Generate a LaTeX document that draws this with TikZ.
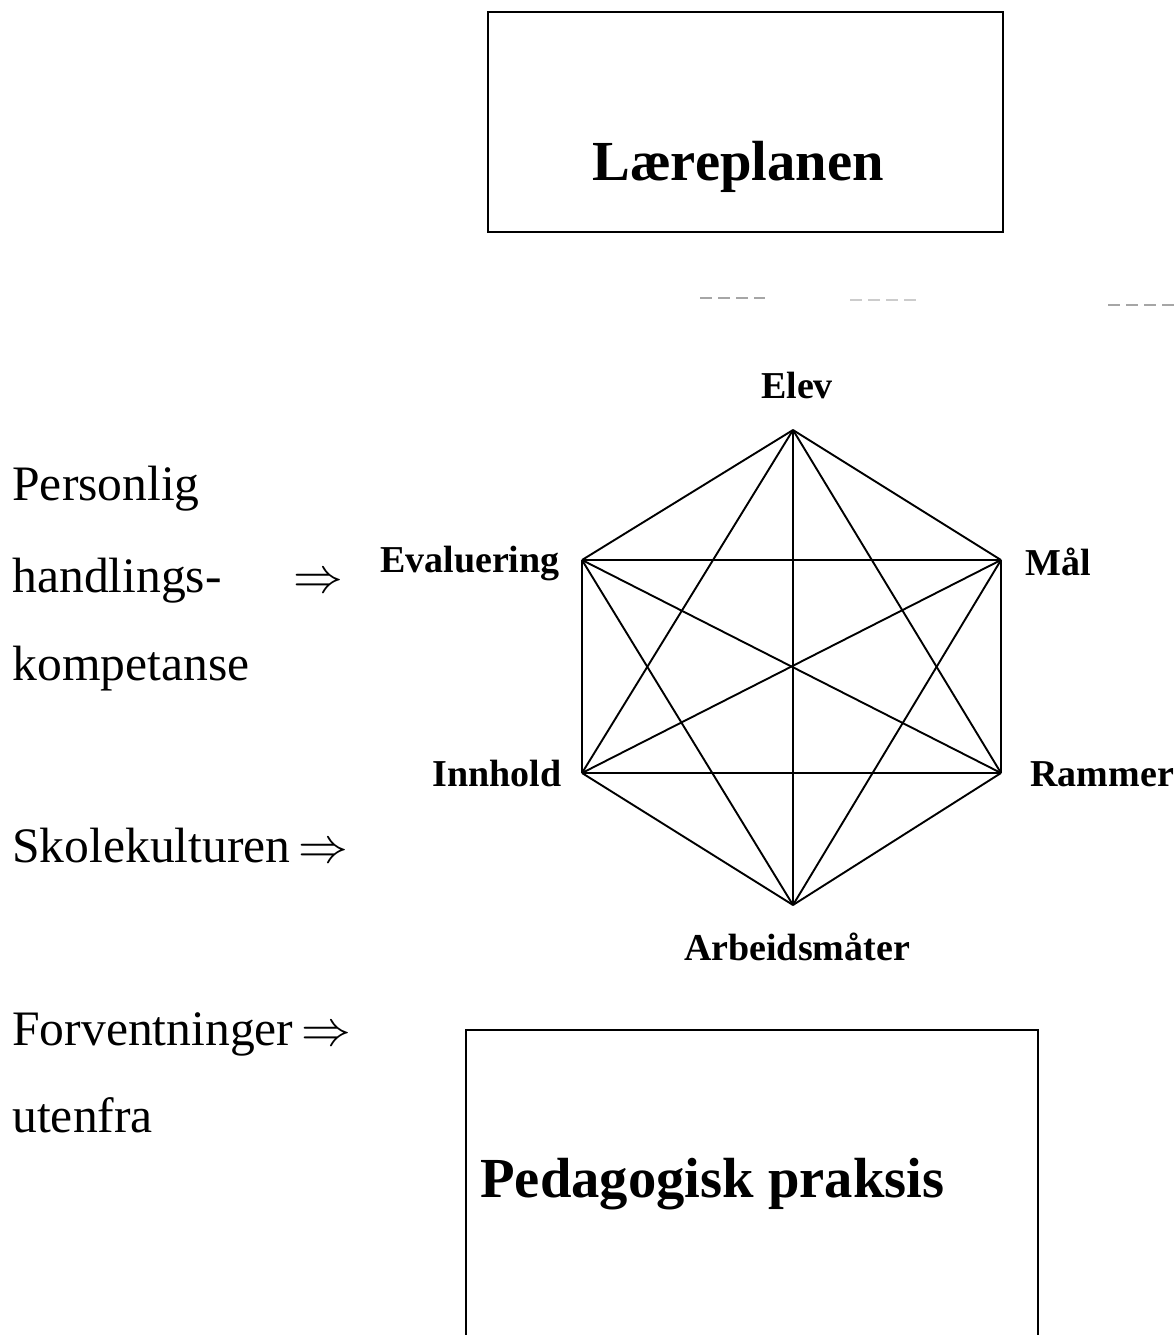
\documentclass[tikz,border=0pt]{standalone}
\usepackage{fontspec}
\setmainfont{Liberation Serif}
\begin{document}
\begin{tikzpicture}[x=0.5pt,y=-0.5pt,
  boxline/.style={line width=1pt, line cap=rect},
  edge/.style={line width=0.95pt},
  vlabel/.style={font=\bfseries\fontsize{19}{22}\selectfont, inner sep=0pt},
  lefttext/.style={font=\fontsize{24.8}{28}\selectfont, inner sep=0pt, anchor=base west},
  title/.style={font=\bfseries\fontsize{28.3}{32}\selectfont, inner sep=0pt},
  noise/.style={draw=black!35, line width=0.6pt, dash pattern=on 6pt off 3pt}]
\useasboundingbox (0,0) rectangle (1175,1335);
\fill[white] (0,0) rectangle (1175,1335);

% top box
\node[draw, boxline, minimum width=257.5pt, minimum height=110pt, inner sep=0pt] (lp) at (745.5,122) {};
\node[title, anchor=base] (lptext) at (738,180) {Læreplanen};

% scan noise
\coordinate (n1a) at (700,298); \coordinate (n1b) at (765,298);
\coordinate (n2a) at (850,300); \coordinate (n2b) at (920,300);
\coordinate (n3a) at (1108,305); \coordinate (n3b) at (1175,305);
\draw[noise] (n1a) -- (n1b);
\draw[noise, draw=black!20] (n2a) -- (n2b);
\draw[noise] (n3a) -- (n3b);

% hexagon vertices
\coordinate (elev) at (793,430);
\coordinate (mal) at (1001,560);
\coordinate (ram) at (1001,773);
\coordinate (arb) at (793,905);
\coordinate (inn) at (582,773);
\coordinate (eva) at (582,560);

\foreach \a/\b in {elev/mal, mal/ram, ram/arb, arb/inn, inn/eva, eva/elev,
                   eva/mal, inn/ram, elev/arb, elev/inn, elev/ram,
                   arb/eva, arb/mal, eva/ram, mal/inn}
  \draw[edge] (\a) -- (\b);

% vertex labels
\node[vlabel, anchor=base] (lelev) at (797,398) {Elev};
\node[vlabel, anchor=base west] (lmal) at (1025,575) {Mål};
\node[vlabel, anchor=base west] (lram) at (1030,786) {Rammer};
\node[vlabel, anchor=base] (larb) at (797,960) {Arbeidsmåter};
\node[vlabel, anchor=base east] (linn) at (562,786) {Innhold};
\node[vlabel, anchor=base east] (leva) at (560,572) {Evaluering};

% left texts
\node[lefttext] (t1) at (12,500) {Personlig};
\node[lefttext] (t2) at (12,592) {handlings-};
\node[lefttext] (t2a) at (293,592) {$\Rightarrow$};
\node[lefttext] (t3) at (12,680) {kompetanse};
\node[lefttext] (t4) at (12,862) {Skolekulturen\,$\Rightarrow$};
\node[lefttext] (t5) at (12,1045) {Forventninger\,$\Rightarrow$};
\node[lefttext] (t6) at (12,1132) {utenfra};

% bottom box (open at bottom edge)
\coordinate (b1) at (466,1340);
\coordinate (b2) at (466,1030);
\coordinate (b3) at (1038,1030);
\coordinate (b4) at (1038,1340);
\draw[boxline] (b1) -- (b2) -- (b3) -- (b4);
\node[title, anchor=base west] (pp) at (480,1197) {Pedagogisk praksis};
\end{tikzpicture}
\end{document}
